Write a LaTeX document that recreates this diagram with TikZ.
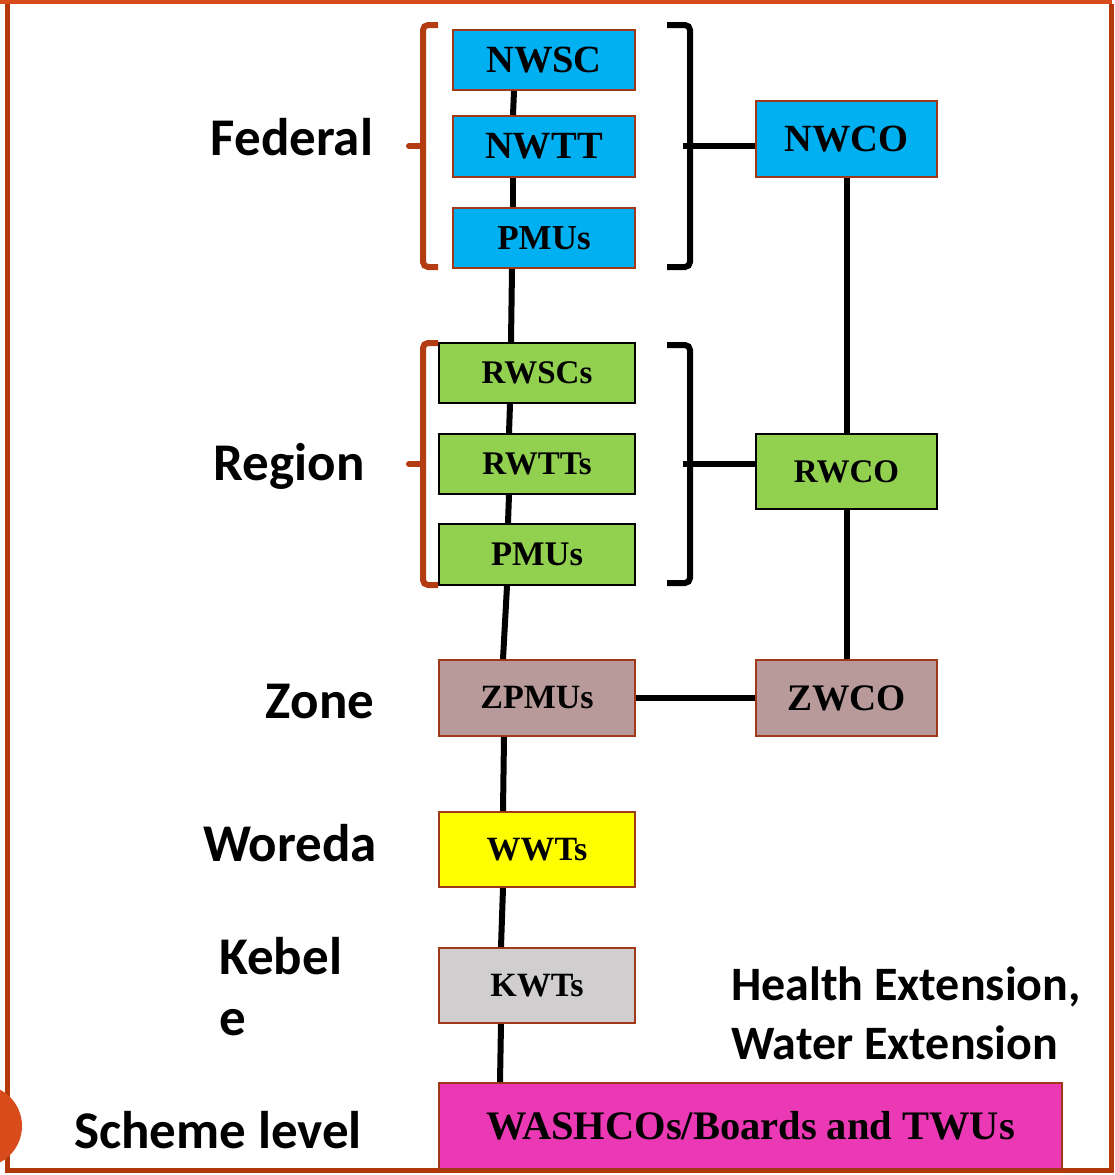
\documentclass[tikz,border=0pt]{standalone}
\usepackage{fontspec}
\setmainfont{Liberation Serif}
\newfontfamily\lblfont{Carlito}
\usetikzlibrary{calc}
\definecolor{fedblue}{HTML}{00B0F0}
\definecolor{reggreen}{HTML}{92D050}
\definecolor{zonemauve}{HTML}{B99A9B}
\definecolor{wyellow}{HTML}{FFFF00}
\definecolor{kgrey}{HTML}{D0CECE}
\definecolor{washpink}{HTML}{EB38B4}
\definecolor{boxbr}{HTML}{A0391A}
\definecolor{brorange}{HTML}{B33C12}
\definecolor{frametop}{HTML}{D84B1A}
\definecolor{frameside}{HTML}{B3390B}
\begin{document}
\begin{tikzpicture}[x=1pt,y=-1pt,
  box/.style={draw=boxbr, line width=2pt, inner sep=0pt, text=black},
  fs/.style={font=\bfseries\fontsize{#1}{#1}\selectfont},
  conn/.style={draw=black, line width=6pt},
  brk/.style={line width=6pt, rounded corners=5pt},
  lbl/.style={font=\lblfont\bfseries\fontsize{53}{60}\selectfont, inner sep=0pt},
  ext/.style={font=\lblfont\bfseries\fontsize{48}{56}\selectfont, inner sep=0pt, align=left}
]
\useasboundingbox (0,0) rectangle (1114,1175);
% frame
\draw[frametop, line width=4pt] (0,2) -- (1112,2);
\draw[frameside, line width=5pt] (7,4) -- (7,1170) -- (1111,1170) -- (1111,4);
\fill[frametop] (-19,1126) circle (41);

% federal boxes
\node[box, fill=fedblue, minimum width=182, minimum height=60, fs=38.5] (NWSC) at (544,60) {NWSC};
\node[box, fill=fedblue, minimum width=182, minimum height=61, fs=38.5] (NWTT) at (544,146.5) {NWTT};
\node[box, fill=fedblue, minimum width=182, minimum height=60, fs=35] (PMUa) at (544,238) {PMUs};
\node[box, fill=fedblue, minimum width=181, minimum height=76, fs=38.5] (NWCO) at (846.5,139) {NWCO};
% region boxes
\node[box, draw=black, fill=reggreen, minimum width=196, minimum height=60, fs=33] (RWSC) at (537,373) {RWSCs};
\node[box, draw=black, fill=reggreen, minimum width=196, minimum height=60, fs=33] (RWTT) at (537,464) {RWTTs};
\node[box, draw=black, fill=reggreen, minimum width=196, minimum height=61, fs=34.5] (PMUb) at (537,554.5) {PMUs};
\node[box, draw=black, fill=reggreen, minimum width=181, minimum height=75, fs=33] (RWCO) at (846.5,471.5) {RWCO};
% zone
\node[box, fill=zonemauve, minimum width=196, minimum height=76, fs=34] (ZPMU) at (537,698) {ZPMUs};
\node[box, fill=zonemauve, minimum width=181, minimum height=76, fs=37.5] (ZWCO) at (846.5,698) {ZWCO};
% woreda, kebele, scheme
\node[box, fill=wyellow, minimum width=196, minimum height=75, fs=34] (WWT) at (537,849.5) {WWTs};
\node[box, fill=kgrey, minimum width=196, minimum height=75, fs=34] (KWT) at (537,985.5) {KWTs};
\node[box, fill=washpink, minimum width=623, minimum height=86, fs=40.5] (WASH) at (750.5,1126) {WASHCOs/Boards and TWUs};

% left column connectors
\draw[conn] ($(NWSC.south)+(-30,0)$) -- ($(NWTT.north)+(-31,0)$);
\draw[conn] ($(NWTT.south)+(-31,0)$) -- ($(PMUa.north)+(-31,0)$);
\draw[conn] ($(PMUa.south)+(-32,0)$) -- ($(RWSC.north)+(-26,0)$);
\draw[conn] ($(RWSC.south)+(-27,0)$) -- ($(RWTT.north)+(-28,0)$);
\draw[conn] ($(RWTT.south)+(-28,0)$) -- ($(PMUb.north)+(-29,0)$);
\draw[conn] ($(PMUb.south)+(-30,0)$) -- ($(ZPMU.north)+(-34,0)$);
\draw[conn] ($(ZPMU.south)+(-33,0)$) -- ($(WWT.north)+(-34,0)$);
\draw[conn] ($(WWT.south)+(-34,0)$) -- ($(KWT.north)+(-36,0)$);
\draw[conn] ($(KWT.south)+(-36,0)$) -- ($(WASH.north)+(-250.5,0)$);
% right column connectors
\draw[conn] (NWCO.south) -- (RWCO.north);
\draw[conn] (RWCO.south) -- (ZWCO.north);
\draw[conn] (ZPMU.east) -- (ZWCO.west);

% brackets federal
\draw[brk, brorange] (438,25) -- (423,25) -- (423,267) -- (438,267);
\draw[brorange, line width=6pt, line cap=round] (409,146) -- (423,146);
\draw[brk, black] (667,25) -- (690,25) -- (690,267) -- (667,267);
\coordinate (bf) at (683,146);
\draw[conn] (bf) -- (bf -| NWCO.west);
% brackets region
\draw[brk, brorange] (438,343) -- (423,343) -- (423,585) -- (438,585);
\draw[brorange, line width=6pt, line cap=round] (409,464) -- (423,464);
\draw[brk, black] (667,345) -- (690,345) -- (690,583) -- (667,583);
\coordinate (br) at (683,464);
\draw[conn] (br) -- (br -| RWCO.west);

% level labels
\node[lbl] (lfed) at (292,137) {Federal};
\node[lbl] (lreg) at (289,466) {Region};
\node[lbl] (lzone) at (320,702) {Zone};
\node[lbl] (lwor) at (290,843) {Woreda};
\node[lbl, anchor=west] (lkeb) at (219,956) {Kebel};
\node[lbl, anchor=west] (lkebe) at (219,1023) {e};
\node[lbl] (lsch) at (218,1130) {Scheme level};
\node[ext, anchor=west] (lext1) at (731,987) {Health Extension,};
\node[ext, anchor=west] (lext2) at (731,1043) {Water Extension};
\end{tikzpicture}
\end{document}
